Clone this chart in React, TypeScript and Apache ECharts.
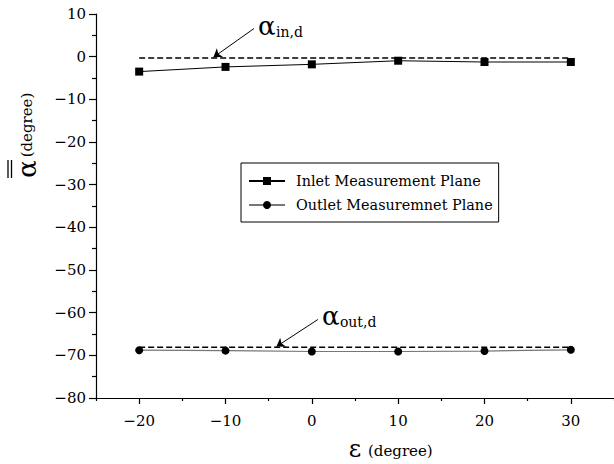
import React, { useEffect, useRef } from "react";
import * as echarts from "echarts";

// Flow angle versus yaw angle, measured at the two planes
const epsilon = [-20, -10, 0, 10, 20, 30];
const inletAlpha = [-3.5, -2.4, -1.8, -0.95, -1.25, -1.25];
const outletAlpha = [-68.8, -68.9, -69.1, -69.1, -69.0, -68.7];

// Design flow angles (dashed reference lines)
const inletDesign = -0.3;
const outletDesign = -68.1;

const xMajorTicks = [-20, -10, 0, 10, 20, 30];
const xMinorTicks = [-25, -15, -5, 5, 15, 25, 35];

const seriesNames = ["Inlet Measurement Plane", "Outlet Measuremnet Plane"];

// Annotation arrows: tail and head in data units
const inletArrow = { tail: [-6.7, 6.6], head: [-11.4, -0.15], sub: "in,d" };
const outletArrow = { tail: [0.7, -61.6], head: [-4.1, -67.95], sub: "out,d" };

const FONT = "'DejaVu Serif', 'Liberation Serif', serif";

const minus = (v: number) => String(v).replace("-", "\u2212");

export default function App() {
  const ref = useRef<HTMLDivElement>(null);

  useEffect(() => {
    if (!ref.current) return;
    const chart = echarts.init(ref.current, null, { renderer: "svg" });

    const pairs = (ys: number[]) => epsilon.map((x, i) => [x, ys[i]]);
    const flat = (v: number) => [
      [epsilon[0], v],
      [epsilon[epsilon.length - 1], v],
    ];
    const arrowLine = (a: typeof inletArrow) => ({
      symbol: ["none", "arrow"],
      symbolSize: 8,
      silent: true,
      label: { show: false },
      lineStyle: { color: "#000", type: "solid", width: 1 },
      data: [[{ coord: a.tail }, { coord: a.head }]],
    });

    const option: any = {
      animation: false,
      backgroundColor: "#fff",
      grid: { left: 96, top: 14, right: 0, bottom: 66, containLabel: false },
      legend: {
        data: seriesNames,
        orient: "vertical",
        left: 241,
        top: 163,
        backgroundColor: "#fff",
        borderColor: "#000",
        borderWidth: 1,
        borderRadius: 0,
        padding: [8, 6, 7, 7],
        itemGap: 4,
        itemWidth: 36,
        itemHeight: 10,
        textStyle: {
          fontFamily: FONT,
          fontSize: 14.4,
          color: "#000",
          lineHeight: 20,
          padding: [0, 0, 0, 6],
        },
      },
      xAxis: [
        {
          type: "value",
          min: -25,
          max: 35,
          position: "bottom",
          splitLine: { show: false },
          axisLine: { onZero: false, lineStyle: { color: "#000", width: 1.2 } },
          axisTick: {
            customValues: xMajorTicks,
            length: 6,
            lineStyle: { color: "#000", width: 1.2 },
          },
          axisLabel: {
            customValues: xMajorTicks,
            formatter: (v: number) => minus(v),
            fontFamily: FONT,
            fontSize: 15,
            color: "#000",
            margin: 15,
          },
        },
        {
          type: "value",
          min: -25,
          max: 35,
          position: "bottom",
          splitLine: { show: false },
          axisLine: { show: false, onZero: false },
          axisTick: {
            customValues: xMinorTicks,
            length: 3,
            lineStyle: { color: "#000", width: 1.2 },
          },
          axisLabel: { show: false },
        },
      ],
      yAxis: {
        type: "value",
        min: -80,
        max: 10,
        interval: 10,
        splitLine: { show: false },
        axisLine: { show: true, onZero: false, lineStyle: { color: "#000", width: 1.2 } },
        axisTick: { length: 7, lineStyle: { color: "#000", width: 1.2 } },
        minorTick: {
          show: true,
          splitNumber: 2,
          length: 4,
          lineStyle: { color: "#000", width: 1.2 },
        },
        axisLabel: {
          formatter: (v: number) => minus(v),
          fontFamily: FONT,
          fontSize: 15,
          color: "#000",
          margin: 10,
        },
      },
      series: [
        {
          name: "inDesign",
          type: "line",
          data: flat(inletDesign),
          symbol: "none",
          lineStyle: { color: "#000", width: 1.4, type: [6, 3] },
          markLine: arrowLine(inletArrow),
          z: 1,
        },
        {
          name: "outDesign",
          type: "line",
          data: flat(outletDesign),
          symbol: "none",
          lineStyle: { color: "#000", width: 1.5, type: [6, 3] },
          markLine: arrowLine(outletArrow),
          z: 1,
        },
        {
          name: seriesNames[0],
          type: "line",
          data: pairs(inletAlpha),
          symbol: "rect",
          symbolSize: 8,
          itemStyle: { color: "#000" },
          lineStyle: { color: "#000", width: 1 },
          z: 3,
        },
        {
          name: seriesNames[1],
          type: "line",
          data: pairs(outletAlpha),
          symbol: "circle",
          symbolSize: 8,
          itemStyle: { color: "#000" },
          lineStyle: { color: "#777", width: 1.2 },
          z: 3,
        },
      ],
    };

    chart.setOption(option);

    // Labels at the arrow tails, placed from the axis scales
    const labelFor = (a: typeof inletArrow) => {
      const p = chart.convertToPixel({ xAxisIndex: 0, yAxisIndex: 0 }, a.tail) as number[];
      const x = p[0] + 4;
      const y = p[1] - 3;
      return [
        {
          type: "text",
          x,
          y,
          style: {
            text: "α",
            fontFamily: FONT,
            fontSize: 26,
            fill: "#000",
            align: "left",
            verticalAlign: "middle",
          },
        },
        {
          type: "text",
          x: x + 18,
          y: y + 6,
          style: {
            text: a.sub,
            fontFamily: FONT,
            fontSize: 14,
            fill: "#000",
            align: "left",
            verticalAlign: "middle",
          },
        },
      ];
    };

    chart.setOption({
      graphic: [
        ...labelFor(inletArrow),
        ...labelFor(outletArrow),
        // y axis title: double-barred alpha and unit, rotated
        {
          type: "text",
          x: 27,
          y: 169,
          rotation: Math.PI / 2,
          style: {
            text: "α",
            fontFamily: FONT,
            fontSize: 26,
            fill: "#000",
            align: "center",
            verticalAlign: "middle",
          },
        },
        {
          type: "line",
          shape: { x1: 8, y1: 160, x2: 8, y2: 178 },
          style: { stroke: "#000", lineWidth: 1.3 },
        },
        {
          type: "line",
          shape: { x1: 11.5, y1: 160, x2: 11.5, y2: 178 },
          style: { stroke: "#000", lineWidth: 1.3 },
        },
        {
          type: "text",
          x: 27,
          y: 125,
          rotation: Math.PI / 2,
          style: {
            text: "(degree)",
            fontFamily: FONT,
            fontSize: 15,
            fill: "#000",
            align: "center",
            verticalAlign: "middle",
          },
        },
        // x axis title
        {
          type: "text",
          x: 355,
          y: 449,
          style: {
            text: "ε",
            fontFamily: FONT,
            fontSize: 24,
            fill: "#000",
            align: "center",
            verticalAlign: "middle",
          },
        },
        {
          type: "text",
          x: 368,
          y: 451,
          style: {
            text: "(degree)",
            fontFamily: FONT,
            fontSize: 15,
            fill: "#000",
            align: "left",
            verticalAlign: "middle",
          },
        },
      ],
    });

    return () => chart.dispose();
  }, []);

  return (
    <div
      ref={ref}
      style={{ position: "fixed", left: 0, top: 0, width: 614, height: 464 }}
    />
  );
}
